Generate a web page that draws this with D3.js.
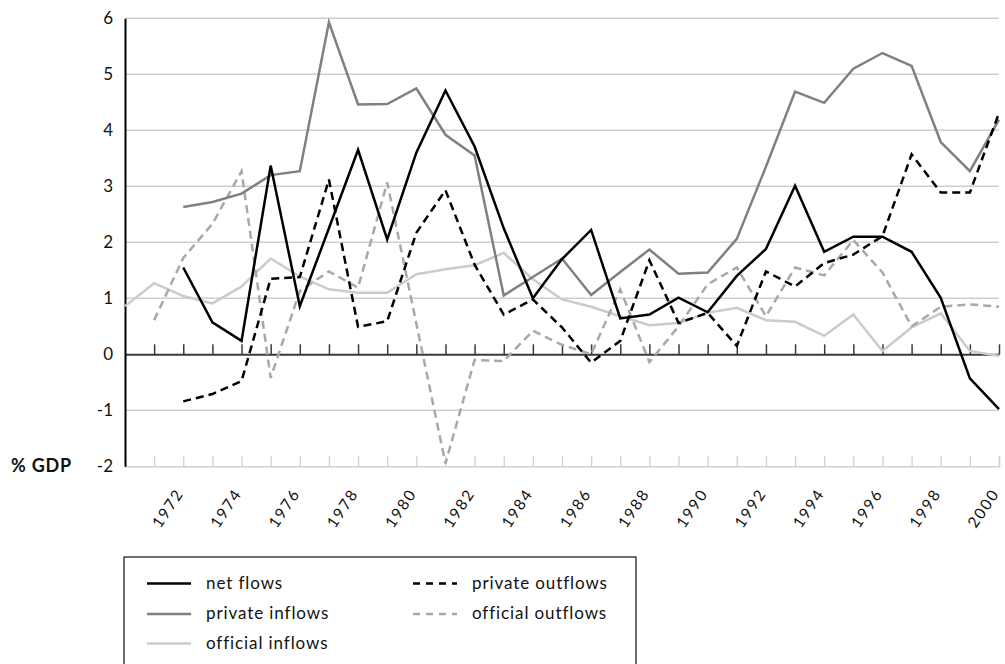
<!DOCTYPE html>
<html>
<head>
<meta charset="utf-8">
<script src="https://cdn.jsdelivr.net/npm/d3@7"></script>
<style>
  html, body { margin: 0; padding: 0; background: #fff; }
  svg { display: block; font-family: Lato, "Open Sans", sans-serif; }
</style>
</head>
<body>
<svg id="chart" width="1005" height="664"></svg>
<script>
// ---- data ----
const years = d3.range(1970, 2001);
const yTicks = [-2, -1, 0, 1, 2, 3, 4, 5, 6];
const yearLabels = [1972, 1974, 1976, 1978, 1980, 1982, 1984, 1986, 1988, 1990, 1992, 1994, 1996, 1998, 2000];

// values per year 1970..2000 (null = no data)
const netFlows = [null, null, 1.55, 0.57, 0.24, 3.37, 0.86, 2.25, 3.65, 2.05, 3.6, 4.71, 3.71, 2.25, 1.0, 1.7, 2.22, 0.64, 0.71, 1.01, 0.75, 1.40, 1.88, 3.01, 1.83, 2.10, 2.10, 1.83, 1.01, -0.43, -0.98];
const privateInflows = [null, null, 2.63, 2.72, 2.87, 3.2, 3.27, 5.93, 4.46, 4.47, 4.75, 3.92, 3.55, 1.05, 1.38, 1.71, 1.06, 1.47, 1.87, 1.44, 1.46, 2.06, 3.35, 4.69, 4.49, 5.10, 5.38, 5.15, 3.79, 3.27, 4.19];
const officialInflows = [0.86, 1.27, 1.04, 0.91, 1.21, 1.71, 1.39, 1.16, 1.10, 1.10, 1.43, 1.52, 1.59, 1.81, 1.34, 0.98, 0.85, 0.68, 0.52, 0.56, 0.74, 0.83, 0.61, 0.58, 0.33, 0.71, 0.06, 0.48, 0.73, 0.06, -0.03];
const privateOutflows = [null, null, -0.84, -0.71, -0.48, 1.35, 1.38, 3.12, 0.49, 0.59, 2.17, 2.93, 1.60, 0.71, 0.98, 0.48, -0.15, 0.24, 1.68, 0.56, 0.74, 0.15, 1.48, 1.21, 1.63, 1.78, 2.11, 3.57, 2.89, 2.89, 4.31];
const officialOutflows = [null, 0.61, 1.72, 2.33, 3.27, -0.42, 1.13, 1.48, 1.19, 3.07, 0.55, -1.95, -0.10, -0.12, 0.42, 0.17, 0.0, 1.16, -0.14, 0.5, 1.25, 1.55, 0.68, 1.55, 1.41, 2.04, 1.46, 0.50, 0.85, 0.89, 0.85];

const seriesNames = ["net flows", "private inflows", "official inflows", "private outflows", "official outflows"];

const series = [
  { name: seriesNames[0], values: netFlows, color: "#000000", dash: null, width: 2.5 },
  { name: seriesNames[1], values: privateInflows, color: "#808080", dash: null, width: 2.5 },
  { name: seriesNames[2], values: officialInflows, color: "#cbcbcb", dash: null, width: 2.5 },
  { name: seriesNames[3], values: privateOutflows, color: "#000000", dash: "8,5", width: 2.5 },
  { name: seriesNames[4], values: officialOutflows, color: "#a8a8a8", dash: "8,5", width: 2.5 }
];
// draw order (back to front)
const drawOrder = [2, 4, 1, 3, 0];

// ---- layout ----
const svg = d3.select("#chart");
const x = d3.scaleLinear().domain([1970, 2000]).range([125, 999]);
const y = d3.scaleLinear().domain([-2, 6]).range([466.3, 18.3]);

// gridlines
svg.append("g").selectAll("line")
  .data(yTicks.filter(t => t !== 0 && t !== -2))
  .join("line")
  .attr("x1", x(1970)).attr("x2", x(2000))
  .attr("y1", d => y(d)).attr("y2", d => y(d))
  .attr("stroke", "#cfcfcf").attr("stroke-width", 1.5);

// bottom axis line at -2 with light ticks
const bottomAxis = d3.axisBottom(x).tickValues(years.slice(1)).tickSize(-10).tickFormat("");
const gb = svg.append("g").attr("transform", `translate(0,${y(-2)})`).call(bottomAxis);
gb.select(".domain").attr("stroke", "#cfcfcf").attr("stroke-width", 1.5);
gb.selectAll(".tick line").attr("stroke", "#cfcfcf").attr("stroke-width", 1.3);

// zero line with dark ticks
const zeroAxis = d3.axisBottom(x).tickValues(years.slice(1)).tickSize(-10).tickFormat("").tickSizeOuter(0);
const gz = svg.append("g").attr("transform", `translate(0,${y(0)})`).call(zeroAxis);
gz.select(".domain").attr("stroke", "#3a3a3a").attr("stroke-width", 2);
gz.selectAll(".tick line").attr("stroke", "#3a3a3a").attr("stroke-width", 1.5);

// year labels
svg.append("g").selectAll("text")
  .data(yearLabels)
  .join("text")
  .attr("transform", d => `translate(${x(d) + 1},${y(-2) + 27}) rotate(-56)`)
  .attr("text-anchor", "end")
  .attr("font-size", 15.5)
  .attr("letter-spacing", 1.8)
  .attr("fill", "#111")
  .text(d => d);

// y axis
const yAxis = d3.axisLeft(y).tickValues(yTicks).tickSize(0).tickPadding(12).tickFormat(d => String(d));
const gy = svg.append("g").attr("transform", `translate(${x(1970)},0)`).call(yAxis);
gy.select(".domain").attr("stroke", "#000").attr("stroke-width", 2);
gy.selectAll(".tick text").attr("font-size", 17).attr("font-family", "Lato, sans-serif").attr("fill", "#111");

svg.append("text")
  .attr("x", 11).attr("y", y(-2) + 6)
  .attr("font-size", 18).attr("font-weight", "bold").attr("letter-spacing", 0.8).attr("fill", "#111")
  .text("% GDP");

// lines
const line = d3.line()
  .defined(d => d.v !== null)
  .x(d => x(d.year))
  .y(d => y(d.v));

drawOrder.forEach(i => {
  const s = series[i];
  const pts = years.map((yr, k) => ({ year: yr, v: s.values[k] }));
  svg.append("path")
    .datum(pts)
    .attr("d", line)
    .attr("fill", "none")
    .attr("stroke", s.color)
    .attr("stroke-width", s.width)
    .attr("stroke-linejoin", "miter")
    .attr("stroke-dasharray", s.dash);
});

// legend
const lg = svg.append("g");
lg.append("rect")
  .attr("x", 124).attr("y", 557).attr("width", 512).attr("height", 140)
  .attr("fill", "none").attr("stroke", "#222").attr("stroke-width", 1.3);

const legendPos = [
  { i: 0, col: 0, row: 0 },
  { i: 1, col: 0, row: 1 },
  { i: 2, col: 0, row: 2 },
  { i: 3, col: 1, row: 0 },
  { i: 4, col: 1, row: 1 }
];
const colX = [147, 413];
const rowY = [583.5, 614, 643.5];
legendPos.forEach(p => {
  const s = series[p.i];
  const x0 = colX[p.col], yy = rowY[p.row];
  lg.append("line")
    .attr("x1", x0).attr("x2", x0 + 44)
    .attr("y1", yy).attr("y2", yy)
    .attr("stroke", s.color).attr("stroke-width", 2.5)
    .attr("stroke-dasharray", s.dash ? "7,6" : null);
  lg.append("text")
    .attr("x", x0 + 59).attr("y", yy)
    .attr("dy", "0.32em")
    .attr("font-size", 17).attr("letter-spacing", 0.9).attr("fill", "#111")
    .text(s.name);
});
</script>
</body>
</html>
